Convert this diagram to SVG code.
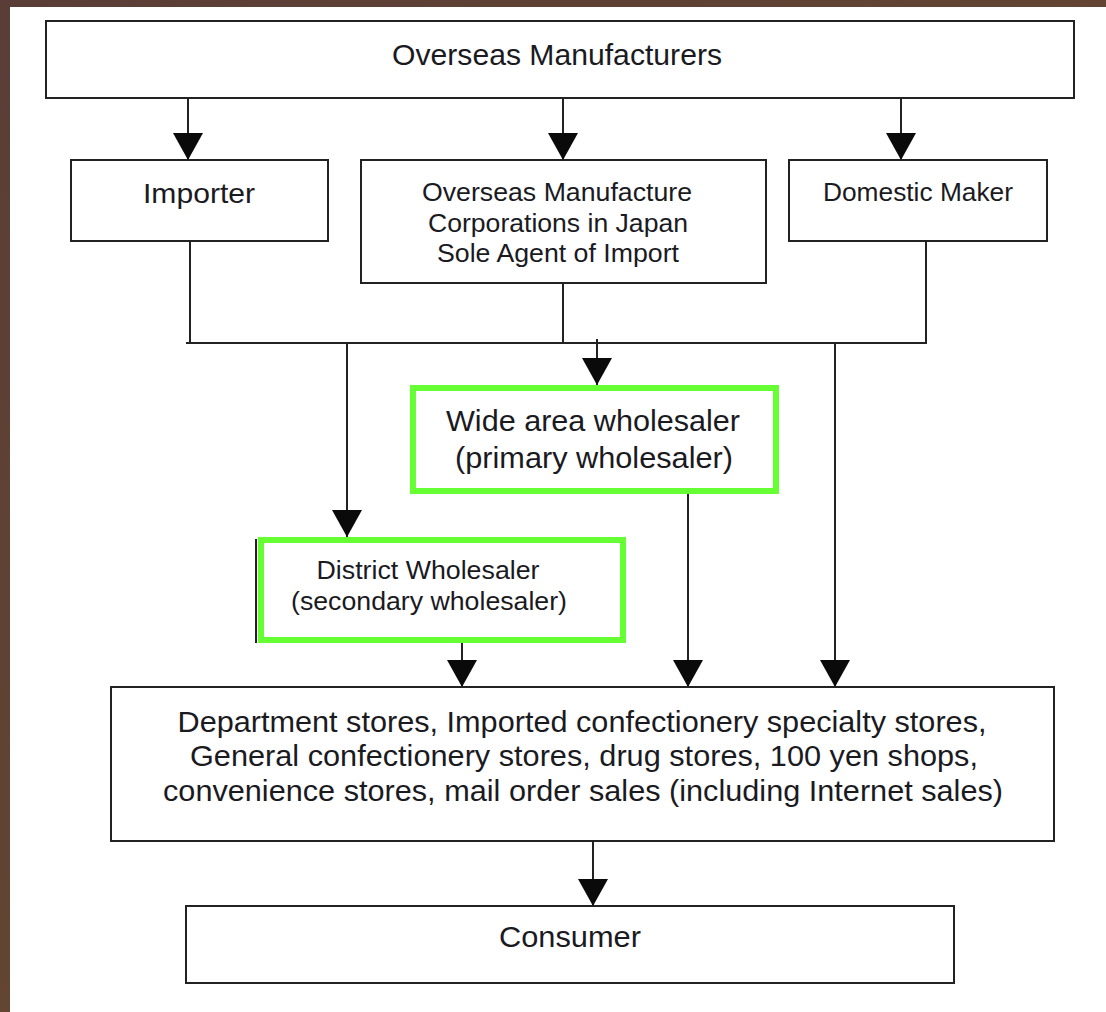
<svg xmlns="http://www.w3.org/2000/svg" width="1106" height="1012" viewBox="0 0 1106 1012">
<defs>
<linearGradient id="bg" x1="0" y1="0" x2="1" y2="1">
<stop offset="0" stop-color="#5a3d37"/>
<stop offset="1" stop-color="#6c4c2e"/>
</linearGradient>
<marker id="ah" markerUnits="userSpaceOnUse" markerWidth="28" markerHeight="30" refX="27" refY="15" orient="auto" viewBox="0 0 28 30">
<path d="M0,0 L27,15 L0,30 Z" fill="#0a0a0a"/>
</marker>
<style>
.box{fill:#fff;stroke:#222;stroke-width:2}
.gbox{fill:#fff;stroke:#66ff33;stroke-width:6}
.t{font-family:"Liberation Sans",Arial,sans-serif;fill:#1a1a1f;text-anchor:middle}
.ln{stroke:#222;stroke-width:2;fill:none}
.ar{stroke:#222;stroke-width:2;fill:none;marker-end:url(#ah)}
</style>
</defs>
<rect x="0" y="0" width="1106" height="1012" fill="url(#bg)"/>
<rect x="10" y="7" width="1096" height="1005" fill="#fff"/>

<g id="connectors">
<line class="ar" x1="188" y1="98" x2="188" y2="160"/>
<line class="ar" x1="563" y1="98" x2="563" y2="160"/>
<line class="ar" x1="901" y1="98" x2="901" y2="160"/>
<line class="ln" x1="190" y1="241" x2="190" y2="343"/>
<line class="ln" x1="563" y1="283" x2="563" y2="343"/>
<line class="ln" x1="926" y1="241" x2="926" y2="343"/>
<line class="ln" x1="186" y1="343" x2="927" y2="343"/>
<line class="ar" x1="597" y1="339" x2="597" y2="385"/>
<line class="ar" x1="347" y1="343" x2="347" y2="537"/>
<line class="ar" x1="835" y1="343" x2="835" y2="687"/>
<line class="ar" x1="688" y1="494" x2="688" y2="687"/>
<line class="ar" x1="462" y1="643" x2="462" y2="687"/>
<line class="ar" x1="593" y1="841" x2="593" y2="906"/>
</g>

<g id="overseas-manufacturers">
<rect class="box" x="46" y="21" width="1028" height="77"/>
<text class="t" x="557" y="65" font-size="29" textLength="330" lengthAdjust="spacingAndGlyphs">Overseas Manufacturers</text>
</g>
<g id="importer">
<rect class="box" x="71" y="160" width="257" height="81"/>
<text class="t" x="199" y="203" font-size="28" textLength="112" lengthAdjust="spacingAndGlyphs">Importer</text>
</g>
<g id="overseas-corp">
<rect class="box" x="361" y="160" width="405" height="123"/>
<text class="t" x="557" y="201" font-size="26" textLength="270" lengthAdjust="spacingAndGlyphs">Overseas Manufacture</text>
<text class="t" x="558" y="232" font-size="26" textLength="260" lengthAdjust="spacingAndGlyphs">Corporations in Japan</text>
<text class="t" x="558" y="262" font-size="26" textLength="242" lengthAdjust="spacingAndGlyphs">Sole Agent of Import</text>
</g>
<g id="domestic-maker">
<rect class="box" x="789" y="160" width="258" height="81"/>
<text class="t" x="918" y="201" font-size="26" textLength="190" lengthAdjust="spacingAndGlyphs">Domestic Maker</text>
</g>
<g id="wide-area-wholesaler">
<rect class="gbox" x="413" y="388" width="363" height="103"/>
<text class="t" x="593" y="431" font-size="29" textLength="294" lengthAdjust="spacingAndGlyphs">Wide area wholesaler</text>
<text class="t" x="594" y="468" font-size="29" textLength="278" lengthAdjust="spacingAndGlyphs">(primary wholesaler)</text>
</g>
<g id="district-wholesaler">
<line class="ln" x1="256" y1="539" x2="256" y2="643"/>
<rect class="gbox" x="261" y="540" width="362" height="100"/>
<text class="t" x="428" y="579" font-size="26" textLength="223" lengthAdjust="spacingAndGlyphs">District Wholesaler</text>
<text class="t" x="429" y="610" font-size="26" textLength="276" lengthAdjust="spacingAndGlyphs">(secondary wholesaler)</text>
</g>
<g id="retail">
<rect class="box" x="111" y="687" width="943" height="154"/>
<text class="t" x="582" y="732" font-size="29" textLength="809" lengthAdjust="spacingAndGlyphs">Department stores, Imported confectionery specialty stores,</text>
<text class="t" x="584" y="766" font-size="29" textLength="788" lengthAdjust="spacingAndGlyphs">General confectionery stores, drug stores, 100 yen shops,</text>
<text class="t" x="583" y="801" font-size="29" textLength="840" lengthAdjust="spacingAndGlyphs">convenience stores, mail order sales (including Internet sales)</text>
</g>
<g id="consumer">
<rect class="box" x="186" y="906" width="768" height="77"/>
<text class="t" x="570" y="947" font-size="29" textLength="142" lengthAdjust="spacingAndGlyphs">Consumer</text>
</g>
</svg>
